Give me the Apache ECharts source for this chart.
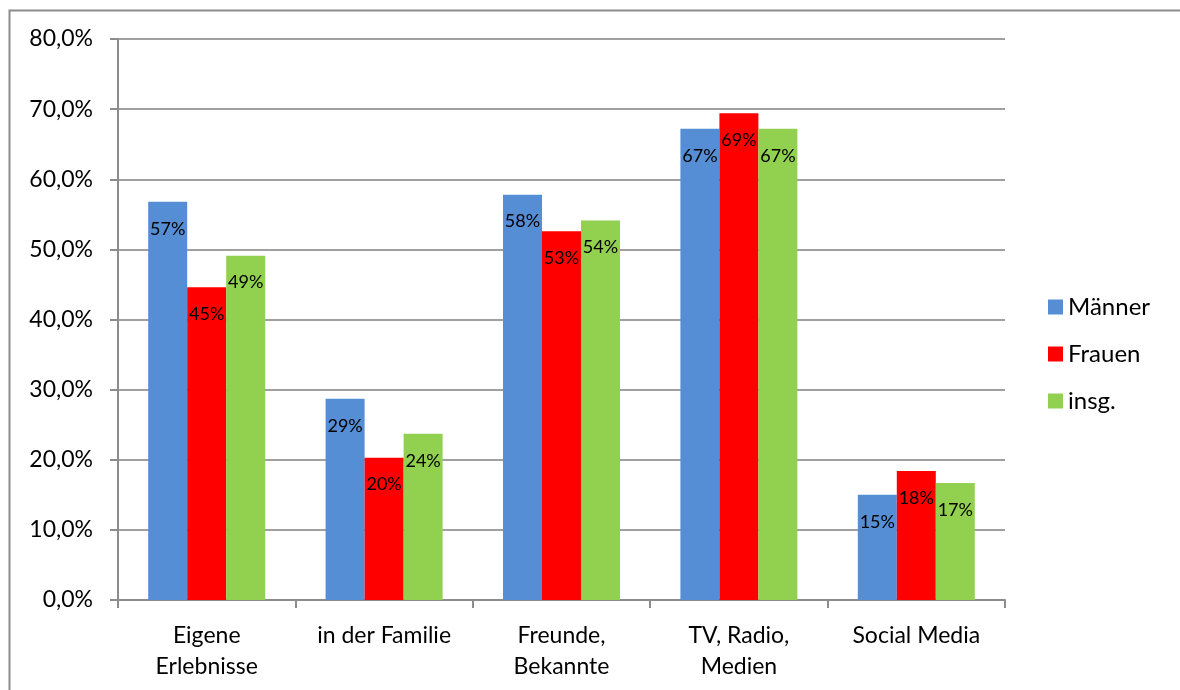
<!DOCTYPE html>
<html>
<head>
<meta charset="utf-8">
<script src="https://cdn.jsdelivr.net/npm/echarts@6/dist/echarts.min.js"></script>
<style>
  html, body { margin: 0; padding: 0; background: #fff; }
  #chart { width: 1180px; height: 690px; }
</style>
</head>
<body>
<div id="chart"></div>
<script>
// Daten
var categories = ['Eigene\nErlebnisse', 'in der Familie', 'Freunde,\nBekannte', 'TV, Radio,\nMedien', 'Social Media'];
var maenner = [56.8, 28.7, 57.8, 67.2, 15.0];
var frauen = [44.6, 20.3, 52.6, 69.4, 18.4];
var insg = [49.1, 23.7, 54.1, 67.2, 16.7];
var seriesNames = ['Männer', 'Frauen', 'insg.'];
var seriesColors = ['#558ed5', '#ff0000', '#92d050'];

var FONT = 'Lato, "Open Sans", sans-serif';

var myChart = echarts.init(document.getElementById('chart'));

function barSeries(name, data, color) {
  return {
    name: name,
    type: 'bar',
    data: data,
    barWidth: 39,
    barGap: '0%',
    itemStyle: { color: color },
    label: {
      show: true,
      position: 'insideTop',
      distance: 18,
      color: '#000',
      fontSize: 18,
      fontFamily: FONT,
      formatter: function (p) { return Math.round(p.value) + '%'; }
    }
  };
}

var option = {
  animation: false,
  backgroundColor: '#fff',
  graphic: [{
    type: 'rect',
    shape: { x: 9.5, y: 10.5, width: 1200, height: 700 },
    style: { fill: 'none', stroke: '#8c8c8c', lineWidth: 2 },
    silent: true
  }],
  grid: { left: 118, right: 175, top: 39, bottom: 90 },
  legend: {
    orient: 'vertical',
    left: 1043,
    top: 290,
    itemWidth: 15,
    itemHeight: 15,
    itemGap: 23,
    icon: 'rect',
    textStyle: { fontSize: 24, fontFamily: FONT, color: '#000' },
    data: seriesNames
  },
  xAxis: {
    type: 'category',
    data: categories,
    axisLine: { lineStyle: { color: '#8c8c8c', width: 2 } },
    axisTick: { show: true, length: 8, lineStyle: { color: '#8c8c8c', width: 2 } },
    axisLabel: {
      color: '#000',
      fontSize: 23,
      fontFamily: FONT,
      lineHeight: 31,
      margin: 20,
      interval: 0
    }
  },
  yAxis: {
    type: 'value',
    min: 0,
    max: 80,
    interval: 10,
    axisLine: { show: true, lineStyle: { color: '#8c8c8c', width: 2 } },
    axisTick: { show: true, length: 8, lineStyle: { color: '#8c8c8c', width: 2 } },
    splitLine: { show: true, lineStyle: { color: '#a0a0a0', width: 2 } },
    axisLabel: {
      color: '#000',
      fontSize: 23,
      fontFamily: FONT,
      margin: 25,
      formatter: function (v) { return v.toFixed(1).replace('.', ',') + '%'; }
    }
  },
  series: [
    barSeries(seriesNames[0], maenner, seriesColors[0]),
    barSeries(seriesNames[1], frauen, seriesColors[1]),
    barSeries(seriesNames[2], insg, seriesColors[2])
  ]
};

myChart.setOption(option);
window.addEventListener('resize', function () { myChart.resize(); });
</script>
</body>
</html>
